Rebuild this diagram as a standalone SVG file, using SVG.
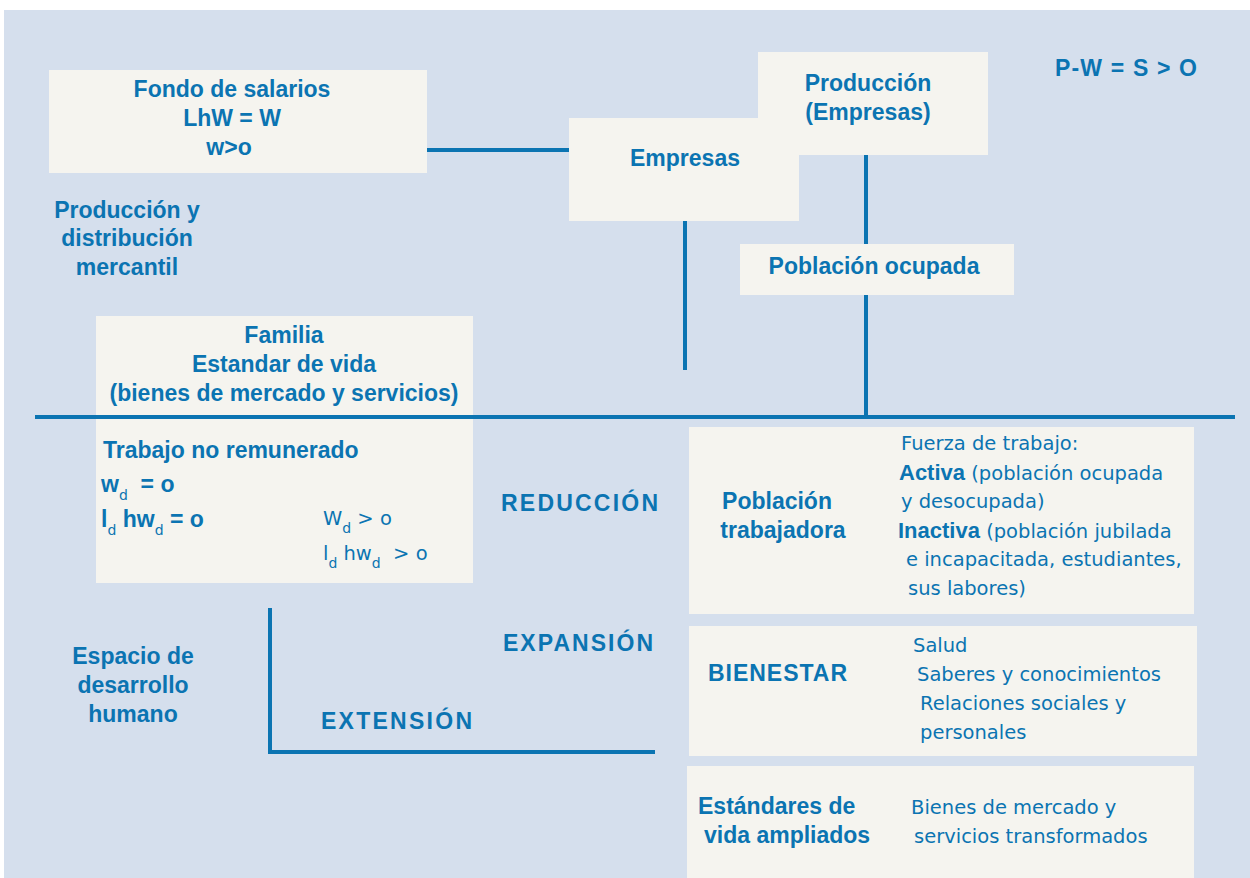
<svg xmlns="http://www.w3.org/2000/svg" width="1250" height="878" viewBox="0 0 1250 878">
<style>
text{font-family:"Liberation Sans",Arial,sans-serif;font-size:23px;font-weight:bold;fill:#0b74b2}
.c{text-anchor:middle}
.u{font-size:23px}
.r{font-family:"DejaVu Sans",Verdana,sans-serif;font-size:19.5px;font-weight:normal}
.rb{font-family:"Liberation Sans",Arial,sans-serif;font-size:22px;font-weight:bold}
.box{fill:#f5f4ef}
.ln{stroke:#0b74b2;stroke-width:4;fill:none}
.sub{font-family:"DejaVu Sans",Verdana,sans-serif;font-size:14px;font-weight:normal}
</style>
<rect x="4" y="10" width="1246" height="868" fill="#d5dfed"/>
<g id="connectors">
<line class="ln" x1="427" y1="150" x2="569" y2="150"/>
<line class="ln" x1="685" y1="221" x2="685" y2="370"/>
<line class="ln" x1="866" y1="155" x2="866" y2="419"/>
<line class="ln" x1="35" y1="417" x2="1235" y2="417"/>
<polyline class="ln" points="270,608 270,752 655,752"/>
</g>
<g id="fondo">
<rect class="box" x="49" y="70" width="378" height="103"/>
<text class="c" x="232" y="97">Fondo de salarios</text>
<text class="c" x="232" y="126" xml:space="preserve">LhW = W</text>
<text class="c" x="229" y="155">w&gt;o</text>
</g>
<g id="produccion-distribucion">
<text class="c" x="127" y="218">Producción y</text>
<text class="c" x="127" y="246">distribución</text>
<text class="c" x="127" y="275">mercantil</text>
</g>
<g id="produccion">
<rect class="box" x="758" y="52" width="230" height="103"/>
<text class="c" x="868" y="91">Producción</text>
<text class="c" x="868" y="120">(Empresas)</text>
</g>
<g id="empresas">
<rect class="box" x="569" y="118" width="230" height="103"/>
<text class="c" x="685" y="166">Empresas</text>
</g>
<g id="poblacion-ocupada">
<rect class="box" x="740" y="244" width="274" height="51"/>
<text class="c" x="874" y="274">Población ocupada</text>
</g>
<g id="formula">
<text class="u" x="1055" y="76" textLength="142" lengthAdjust="spacing">P-W = S &gt; O</text>
</g>
<g id="familia">
<rect class="box" x="96" y="316" width="377" height="267"/>
<line class="ln" x1="96" y1="417" x2="473" y2="417"/>
<text class="c" x="284" y="343">Familia</text>
<text class="c" x="284" y="372">Estandar de vida</text>
<text class="c" x="284" y="401">(bienes de mercado y servicios)</text>
<text x="103" y="458">Trabajo no remunerado</text>
<text x="101" y="492">w<tspan class="sub" dy="8">d</tspan><tspan dy="-8" xml:space="preserve">  = o</tspan></text>
<text x="101" y="527">l<tspan class="sub" dy="8">d</tspan><tspan dy="-8"> hw</tspan><tspan class="sub" dy="8">d</tspan><tspan dy="-8"> = o</tspan></text>
<text class="r" x="323" y="525">W<tspan class="sub" dy="8">d</tspan><tspan dy="-8"> &gt; o</tspan></text>
<text class="r" x="323" y="560">l<tspan class="sub" dy="8">d</tspan><tspan dy="-8"> hw</tspan><tspan class="sub" dy="8">d</tspan><tspan dy="-8" xml:space="preserve">  &gt; o</tspan></text>
</g>
<g id="labels">
<text class="u" x="501" y="511" textLength="157" lengthAdjust="spacing">REDUCCIÓN</text>
<text class="u" x="503" y="651" textLength="150" lengthAdjust="spacing">EXPANSIÓN</text>
<text class="u" x="321" y="729" textLength="151" lengthAdjust="spacing">EXTENSIÓN</text>
<text class="c" x="133" y="664">Espacio de</text>
<text class="c" x="133" y="693">desarrollo</text>
<text class="c" x="133" y="722">humano</text>
</g>
<g id="poblacion-trabajadora">
<rect class="box" x="689" y="427" width="505" height="187"/>
<text class="c" x="777" y="509">Población</text>
<text class="c" x="783" y="538">trabajadora</text>
<text class="r" x="901" y="450">Fuerza de trabajo:</text>
<text class="r" x="899" y="480"><tspan class="rb">Activa</tspan> (población ocupada</text>
<text class="r" x="901" y="508">y desocupada)</text>
<text class="r" x="898" y="538"><tspan class="rb">Inactiva</tspan> (población jubilada</text>
<text class="r" x="906" y="566">e incapacitada, estudiantes,</text>
<text class="r" x="908" y="595">sus labores)</text>
</g>
<g id="bienestar">
<rect class="box" x="689" y="626" width="508" height="130"/>
<text class="u" x="708" y="681" textLength="139" lengthAdjust="spacing">BIENESTAR</text>
<text class="r" x="913" y="652">Salud</text>
<text class="r" x="917" y="681">Saberes y conocimientos</text>
<text class="r" x="920" y="710">Relaciones sociales y</text>
<text class="r" x="920" y="739">personales</text>
</g>
<g id="estandares">
<rect class="box" x="687" y="766" width="507" height="112"/>
<text x="698" y="814">Estándares de</text>
<text x="704" y="843">vida ampliados</text>
<text class="r" x="911" y="814">Bienes de mercado y</text>
<text class="r" x="914" y="843">servicios transformados</text>
</g>
</svg>
